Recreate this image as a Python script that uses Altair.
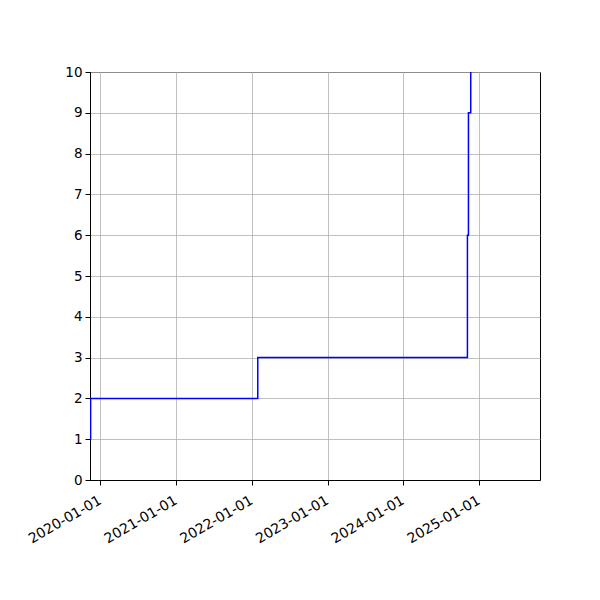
import altair as alt
import pandas as pd

dates = ["2019-11-14", "2019-11-15", "2022-01-29", "2024-11-05", "2024-11-10", "2024-11-21"]
counts = [1, 2, 3, 6, 9, 10]
year_ticks = [2020, 2021, 2022, 2023, 2024, 2025]
y_ticks = list(range(0, 11))

df = pd.DataFrame({"date": dates, "count": counts})

x_domain = [alt.DateTime(year=2019, month=11, date=12, utc=True),
            alt.DateTime(year=2025, month=10, date=21, utc=True)]
x_values = [alt.DateTime(year=y, month=1, date=1, utc=True) for y in year_ticks]

chart = alt.Chart(df).mark_line(
    interpolate="step-after", color="#0000ff", strokeWidth=1.5, clip=True
).encode(
    x=alt.X("date:T",
            scale=alt.Scale(type="utc", domain=x_domain, nice=False),
            axis=alt.Axis(values=x_values, format="%Y-%m-%d", title=None,
                          labelAngle=-30, labelAlign="right", labelBaseline="top",
                          grid=True, gridColor="#b0b0b0", gridWidth=0.8,
                          domainColor="black", tickColor="black", tickSize=5,
                          labelPadding=8, labelOffset=-4, labelColor="black",
                          labelFont="DejaVu Sans", labelFontSize=14, labelOverlap=False)),
    y=alt.Y("count:Q",
            scale=alt.Scale(domain=[0, 10], nice=False, zero=True),
            axis=alt.Axis(values=y_ticks, title=None, format="d",
                          grid=True, gridColor="#b0b0b0", gridWidth=0.8,
                          domainColor="black", tickColor="black", tickSize=5,
                          labelPadding=3, labelColor="black",
                          labelFont="DejaVu Sans", labelFontSize=13.5)),
).properties(
    width=450, height=408,
    padding={"left": 82, "top": 64, "right": 52, "bottom": 112},
    autosize=alt.AutoSizeParams(type="none"),
).configure_view(stroke="black", strokeWidth=1)

chart.save("out.html", embed_options={"renderer": "svg", "actions": False})
